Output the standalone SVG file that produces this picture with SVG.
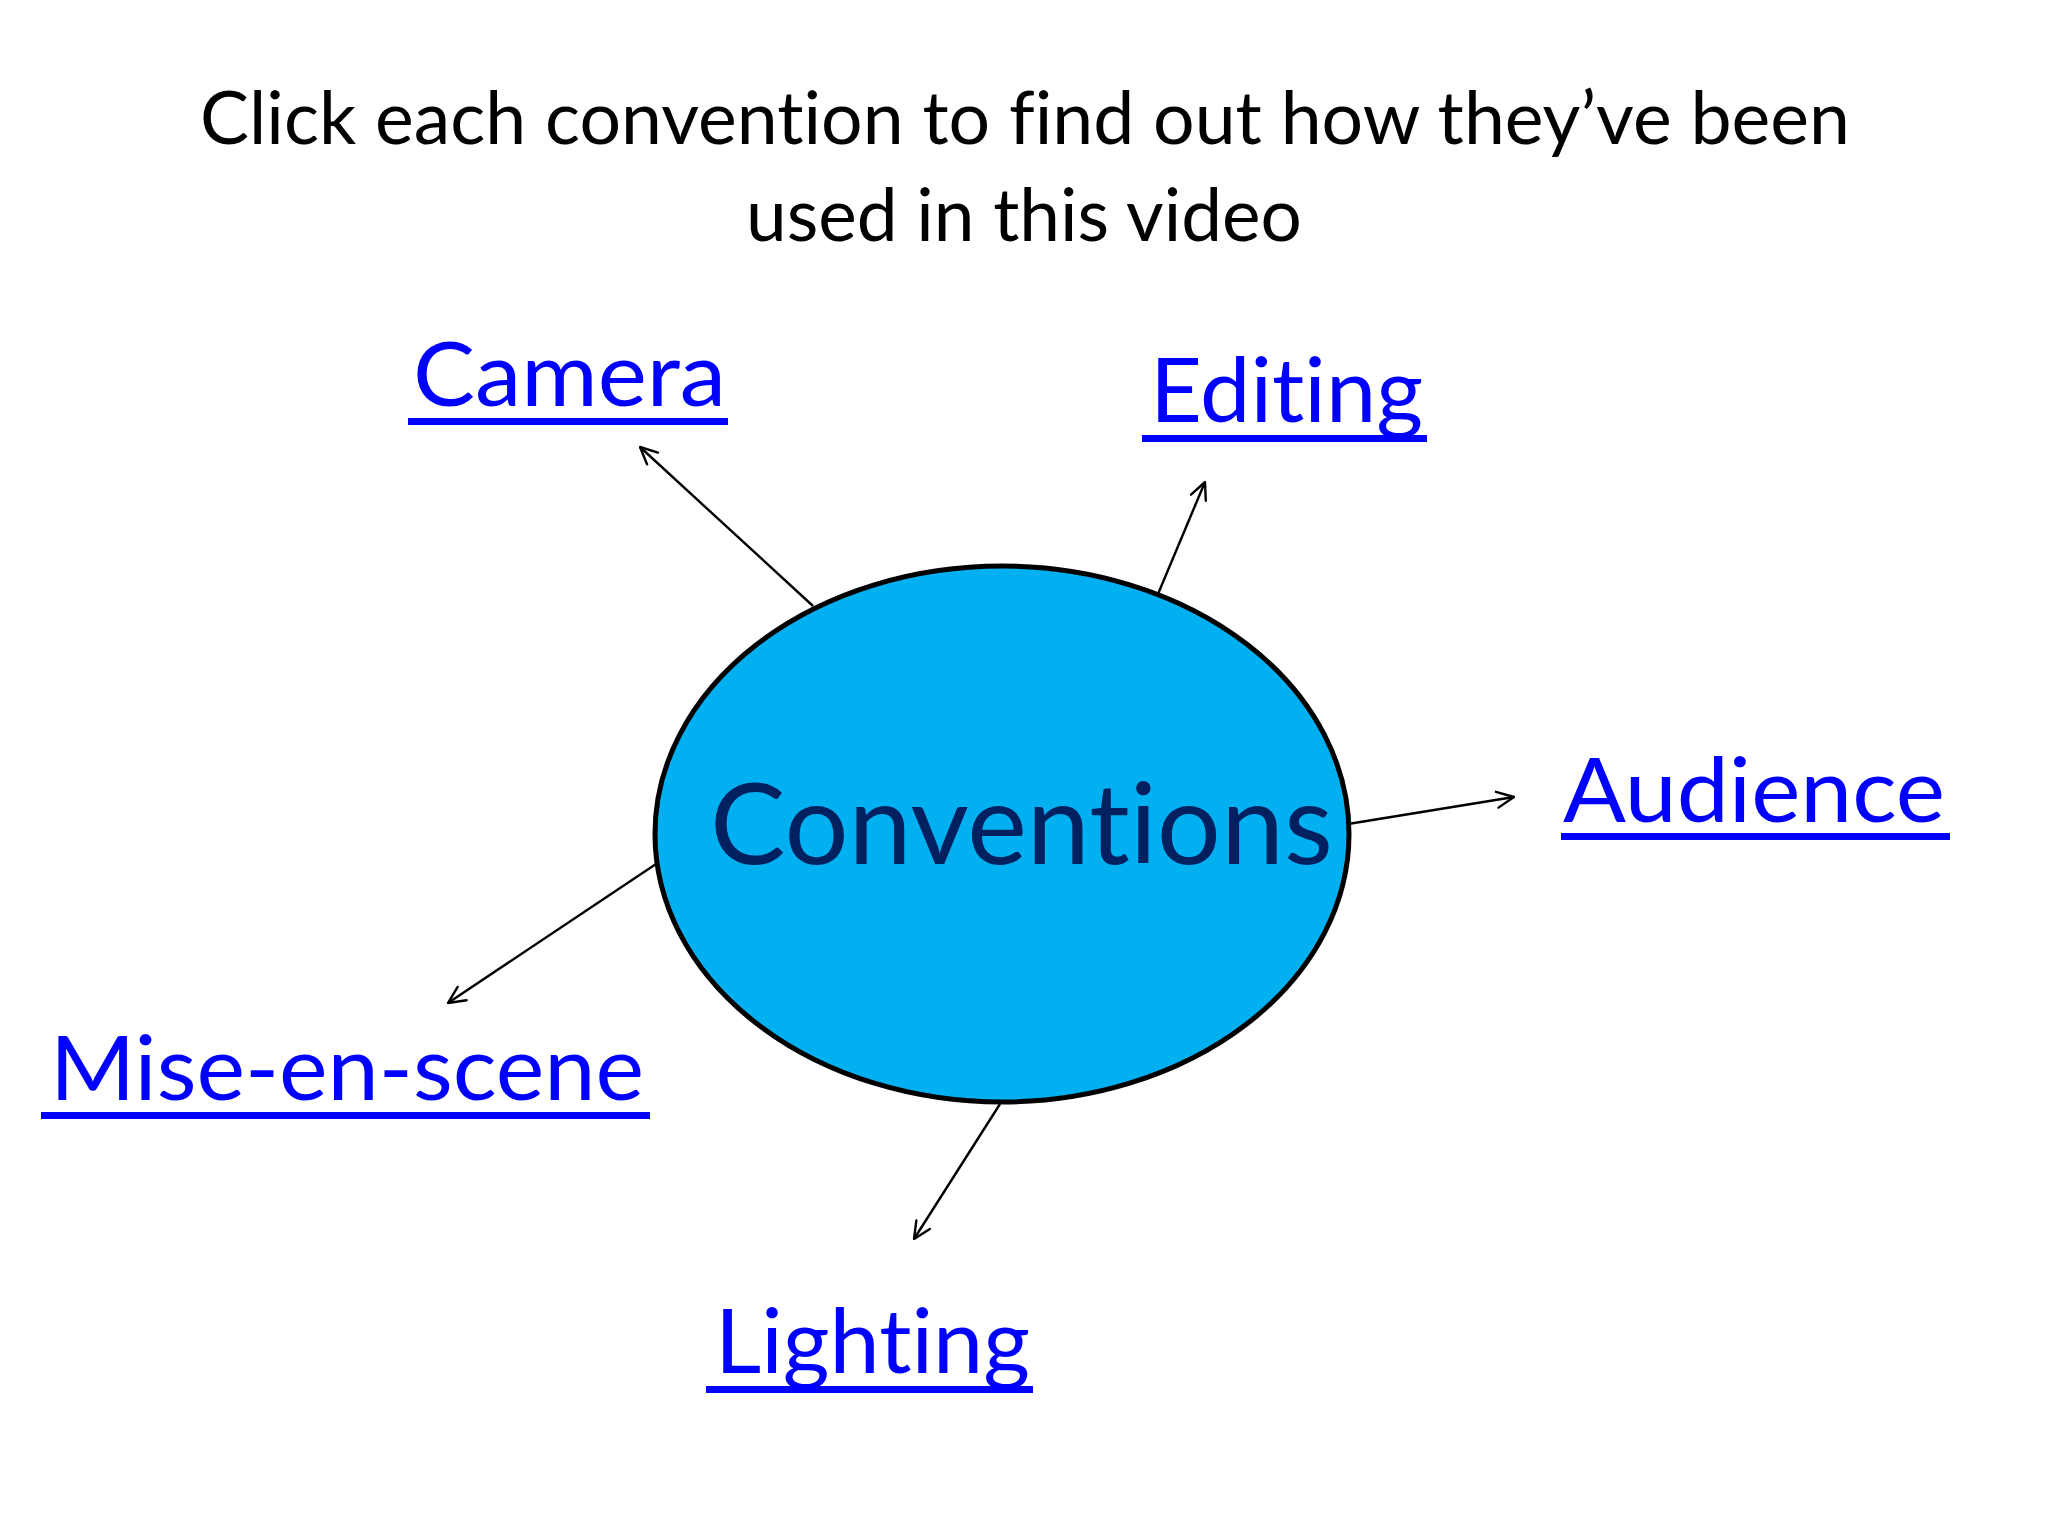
<svg xmlns="http://www.w3.org/2000/svg" width="2048" height="1536" viewBox="0 0 2048 1536">
<style>
  text { font-variant-ligatures: none; font-feature-settings: "liga" 0, "clig" 0; }
  .title { font-family: Lato, "Open Sans", "Liberation Sans", sans-serif; font-size: 73px; fill: #000000; }
  .link { font-family: Lato, "Open Sans", "Liberation Sans", sans-serif; font-size: 89px; fill: #0000FF; }
  .uline { fill: #0000FF; }
  .center { font-family: Lato, "Open Sans", "Liberation Sans", sans-serif; font-size: 112px; fill: #002060; }
  .conn { stroke: #000000; stroke-width: 2.4; fill: none; marker-end: url(#arrow); }
</style>
<defs>
  <marker id="arrow" viewBox="0 0 20 20" refX="19" refY="10" markerWidth="20" markerHeight="20" markerUnits="userSpaceOnUse" orient="auto">
    <path d="M2,2 L19,10 L2,18" fill="none" stroke="#000000" stroke-width="2.4" stroke-linecap="round" stroke-linejoin="round"/>
  </marker>
</defs>
<rect x="0" y="0" width="2048" height="1536" fill="#FFFFFF"/>
<g id="title">
  <text class="title" x="200" y="144" textLength="1650" lengthAdjust="spacingAndGlyphs">Click each convention to find out how they’ve been</text>
  <text class="title" x="746" y="241" textLength="556" lengthAdjust="spacingAndGlyphs">used in this video</text>
</g>
<g id="connectors">
  <line class="conn" x1="813" y1="606" x2="640" y2="447"/>
  <line class="conn" x1="1158" y1="594" x2="1205" y2="482"/>
  <line class="conn" x1="1348" y1="824" x2="1514" y2="797"/>
  <line class="conn" x1="656" y1="864" x2="448" y2="1003"/>
  <line class="conn" x1="1000" y1="1104" x2="914" y2="1239"/>
</g>
<g id="conventions">
  <ellipse cx="1002" cy="834" rx="347" ry="268" fill="#00B0F0" stroke="#000000" stroke-width="5"/>
  <text class="center" x="710" y="864" textLength="623" lengthAdjust="spacingAndGlyphs">Conventions</text>
</g>
<g id="camera">
  <text class="link" x="413" y="406" textLength="313" lengthAdjust="spacingAndGlyphs">Camera</text>
  <rect class="uline" x="408" y="418" width="320" height="7"/>
</g>
<g id="editing">
  <text class="link" x="1150" y="422" textLength="273" lengthAdjust="spacingAndGlyphs">Editing</text>
  <rect class="uline" x="1142" y="435" width="285" height="7"/>
</g>
<g id="audience">
  <text class="link" x="1563" y="822" textLength="382" lengthAdjust="spacingAndGlyphs">Audience</text>
  <rect class="uline" x="1561" y="833" width="389" height="7"/>
</g>
<g id="mise-en-scene">
  <text class="link" x="50" y="1100" textLength="594" lengthAdjust="spacingAndGlyphs">Mise-en-scene</text>
  <rect class="uline" x="41" y="1112" width="609" height="7"/>
</g>
<g id="lighting">
  <text class="link" x="715" y="1373" textLength="315" lengthAdjust="spacingAndGlyphs">Lighting</text>
  <rect class="uline" x="706" y="1386" width="327" height="7"/>
</g>
</svg>
